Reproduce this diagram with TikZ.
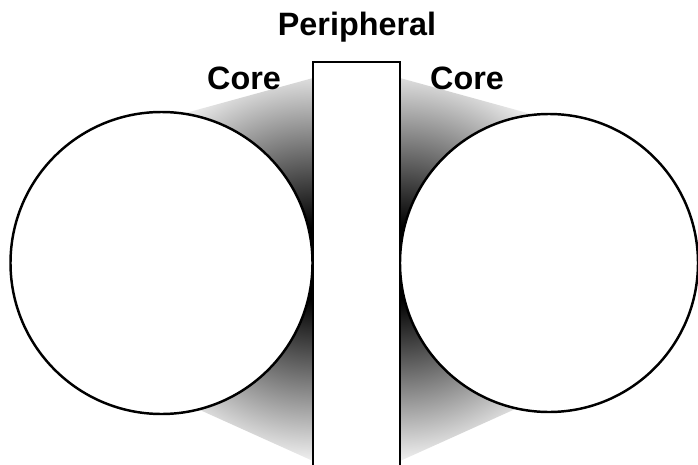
\documentclass[tikz,border=0pt]{standalone}
\usepackage{fontspec}
\setmainfont{Liberation Sans}
\pgfdeclareradialshading{coreglow}{\pgfpoint{0bp}{0bp}}{color(0bp)=(black); color(4.5bp)=(black); color(26bp)=(white); color(50bp)=(white)}
\tikzset{
  corelabel/.style={font=\fontsize{9.2}{11}\selectfont\bfseries},
  outline/.style={line width=0.7pt, fill=white}
}
\begin{document}
\begin{tikzpicture}

\useasboundingbox (0,0) rectangle (6.98,4.64);

% Shading near the contact points
\begin{scope}
  \clip (3.13,3.86) -- (1.60,3.44) -- (1.60,0.72) -- (3.13,0.03) -- cycle;
  \shade[shading=coreglow] (3.13,2.01) circle (2.0);
\end{scope}
\begin{scope}
  \clip (4.00,3.86) -- (5.53,3.44) -- (5.53,0.72) -- (4.00,0.03) -- cycle;
  \shade[shading=coreglow] (4.00,2.01) circle (2.0);
\end{scope}

% Core circles
\draw[outline] (1.615,2.01) circle (1.51);
\draw[outline] (5.49,2.01) circle (1.49);

% Peripheral bar
\draw[outline] (3.13,-0.1) rectangle (4.00,4.02);

% Labels
\node[corelabel] (peripheral) at (3.57,4.37) {Peripheral};
\node[corelabel] (coreleft) at (2.44,3.86) {Core};
\node[corelabel] (coreright) at (4.67,3.86) {Core};

\end{tikzpicture}
\end{document}
